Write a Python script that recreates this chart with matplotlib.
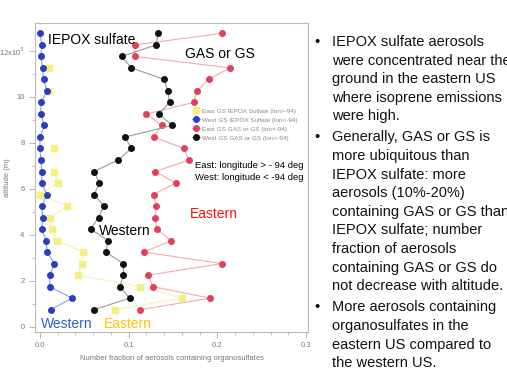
import numpy as np
import matplotlib
matplotlib.use("Agg")
from matplotlib import pyplot as plt

plt.rcParams['font.family'] = ['Liberation Sans', 'DejaVu Sans']

# altitude bins (km)
alt = [0.75, 1.25, 1.75, 2.25, 2.75, 3.25, 3.75, 4.25, 4.75, 5.25, 5.75, 6.25, 6.75,
       7.25, 7.75, 8.25, 8.75, 9.25, 9.75, 10.25, 10.75, 11.25, 11.75, 12.25, 12.75]

nan = np.nan
# number fraction, East / West, IEPOX sulfate and GAS or GS
east_iepox = [0.085, 0.160, 0.113, 0.043, 0.047, 0.049, 0.019, 0.013, 0.011, 0.031, 0.000,
              0.020, 0.016, nan, 0.016, nan, nan, nan, nan, 0.010, nan, 0.010, nan, nan, nan]
west_iepox = [0.012, 0.036, 0.011, 0.011, 0.016, 0.008, 0.007, 0.002, 0.003, 0.002, 0.008,
              0.002, 0.002, 0.001, 0.000, 0.000, 0.005, 0.001, 0.001, 0.008, 0.004, 0.003,
              0.001, 0.002, 0.000]
east_gas = [0.113, 0.192, 0.127, 0.122, 0.205, 0.117, 0.148, 0.132, 0.130, 0.131, 0.128,
            0.153, 0.130, 0.168, 0.162, 0.128, 0.137, 0.120, 0.173, 0.177, 0.190, 0.214,
            0.107, 0.107, 0.205]
west_gas = [0.061, 0.101, 0.090, 0.094, 0.094, 0.074, 0.077, 0.057, 0.066, 0.072, 0.061,
            0.067, 0.061, 0.088, 0.103, 0.096, 0.149, 0.134, 0.146, 0.144, 0.140, 0.103,
            0.092, 0.131, 0.133]

legend_labels = ["East GS IEPOX Sulfate (lon>-94)",
                 "West GS IEPOX Sulfate (lon<-94)",
                 "East GS GAS or GS (lon>-94)",
                 "West GS GAS or GS (lon<-94)"]

y_ticks = [0, 2, 4, 6, 8, 10, 12]
y_ticklabels = ["0", "2", "4", "6", "8", "10", "12x10$^3$"]
x_ticks = [0.0, 0.1, 0.2, 0.3]
x_ticklabels = ["0.0", "0.1", "0.2", "0.3"]

bullets = [
    ["IEPOX sulfate aerosols", "were concentrated near the", "ground in the eastern US",
     "where isoprene emissions", "were high."],
    ["Generally, GAS or GS is", "more ubiquitous than", "IEPOX sulfate: more",
     "aerosols (10%-20%)", "containing GAS or GS than", "IEPOX sulfate; number",
     "fraction of aerosols", "containing GAS or GS do", "not decrease with altitude."],
    ["More aerosols containing", "organosulfates in the", "eastern US compared to",
     "the western US."],
]

W, H = 507, 369
fig = plt.figure(figsize=(W / 100, H / 100), dpi=100)
ax = fig.add_axes([35 / W, 1 - 332 / H, 273 / W, 309 / H])

h1, = ax.plot(east_iepox, alt, '-s', color='#f8f2b8', mfc='#f3ef80', mec='#f3ef80',
              ms=4.5, lw=0.8)
h2, = ax.plot(west_iepox, alt, '-o', color='#8c9cf0', mfc='#2b3ec0', mec='#2b3ec0',
              ms=4, lw=0.8)
h3, = ax.plot(east_gas, alt, '-o', color='#f4a8b0', mfc='#e0405a', mec='#e0405a',
              ms=4, lw=0.8)
h4, = ax.plot(west_gas, alt, '-o', color='#9a9a9a', mfc='#111111', mec='#111111',
              ms=4, lw=0.8)

ax.set_xlim(-0.0056, 0.302)
ax.set_ylim(-0.22, 13.2)
ax.set_xticks(x_ticks)
ax.set_xticklabels(x_ticklabels)
ax.set_yticks(y_ticks)
ax.set_yticklabels(y_ticklabels)
ax.set_xticks(np.arange(0, 0.31, 0.02), minor=True)
ax.set_yticks(np.arange(0, 13, 1), minor=True)
ax.tick_params(colors='#aaaaaa', labelcolor='#777777', labelsize=5.5, length=4, width=0.6)
ax.tick_params(which='minor', colors='#aaaaaa', length=2, width=0.5)
for s in ax.spines.values():
    s.set_color('#bbbbbb')
    s.set_linewidth(0.8)
ax.set_xlabel("Number fraction of aerosols containing organosulfates",
              fontsize=5.5, color='#777777', labelpad=4)
fig.text(4 / W, 1 - 178 / H, "altitude (m)", rotation=90, fontsize=5.5,
         color='#777777', ha='left', va='center')

fig.legend([h1, h2, h3, h4], legend_labels, loc='upper left',
           bbox_to_anchor=(189 / W, 1 - 105 / H), frameon=False, fontsize=4.6,
           labelcolor='#888888', handlelength=1.2, handletextpad=0.4,
           labelspacing=0.55, borderpad=0)

fig.text(48 / W, 1 - 40 / H, "IEPOX sulfate", fontsize=10, va='center')
fig.text(185 / W, 1 - 54 / H, "GAS or GS", fontsize=10, va='center')
fig.text(195 / W, 1 - 165 / H, "East: longitude > - 94 deg", fontsize=6.8, va='center')
fig.text(195 / W, 1 - 177 / H, "West: longitude < -94 deg", fontsize=6.8, va='center')
fig.text(190 / W, 1 - 214 / H, "Eastern", fontsize=10, color='#ff1010', va='center')
fig.text(99 / W, 1 - 231 / H, "Western", fontsize=10, color='black', va='center')
fig.text(41 / W, 1 - 324 / H, "Western", fontsize=10, color='#2a5ee0', va='center')
fig.text(104 / W, 1 - 324 / H, "Eastern", fontsize=10, color='#ffc400', va='center')

y = 42
for para in bullets:
    fig.text(314 / W, 1 - y / H, "\u2022", fontsize=10.5, va='center')
    for line in para:
        fig.text(332 / W, 1 - y / H, line, fontsize=10.5, va='center', color='#111111')
        y += 18.6
    y += 2.5

fig.savefig("out.png", dpi=100)
